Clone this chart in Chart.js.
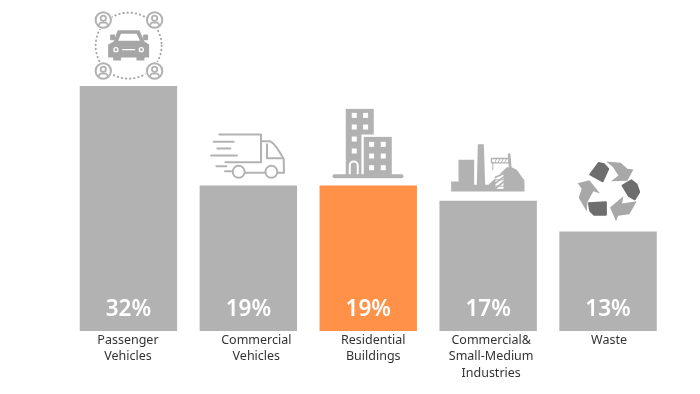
<!DOCTYPE html>
<html><head><meta charset="utf-8">
<style>html,body{margin:0;padding:0;background:#fff}canvas{display:block}</style>
<script src="https://cdn.jsdelivr.net/npm/chart.js@4"></script>
</head><body><canvas id="c" width="700" height="394"></canvas>
<script>
const categories = [["Passenger","Vehicles"],["Commercial","Vehicles"],["Residential","Buildings"],["Commercial&","Small-Medium","Industries"],["Waste"]];
const shareValues = [32,19,19,17,13];
const valueLabels = ["32%","19%","19%","17%","13%"];
const barColors = ["#b2b2b2","#b2b2b2","#ff9248","#b2b2b2","#b2b2b2"];
const labelShift = [-0.5,8,5,3,1];
const G="#b2b2b2", D="#6e6e6e", M="#a8a8a8";

function poly(x,pts,fill){x.beginPath();pts.forEach((p,i)=>i?x.lineTo(p[0],p[1]):x.moveTo(p[0],p[1]));x.closePath();x.fillStyle=fill;x.fill();}
function blob(x,pts,fill){poly(x,pts,fill);x.lineWidth=5;x.lineJoin="round";x.strokeStyle=fill;x.stroke();}
function line(x,pts,w,col){x.beginPath();pts.forEach((p,i)=>i?x.lineTo(p[0],p[1]):x.moveTo(p[0],p[1]));x.lineWidth=w;x.strokeStyle=col||G;x.lineCap="round";x.lineJoin="round";x.stroke();}
function circ(x,cx,cy,r,w,col){x.beginPath();x.arc(cx,cy,r,0,Math.PI*2);x.lineWidth=w;x.strokeStyle=col||G;x.stroke();}
function disc(x,cx,cy,r,col){x.beginPath();x.arc(cx,cy,r,0,Math.PI*2);x.fillStyle=col;x.fill();}

const icons=[
 {ox:175.5,oy:258,draw(x){
   x.setLineDash([1,11.5]);x.lineCap="round";circ(x,176,137,99,6,"#a6a6a6");x.setLineDash([]);
   [[100,60],[254,60],[100,213],[254,213]].forEach(p=>{
     disc(x,p[0],p[1],29,"#fff");circ(x,p[0],p[1],23,6);circ(x,p[0],p[1]-5,8,5.5);
     line(x,[[p[0]-14,p[1]+15],[p[0]-9,p[1]+8],[p[0]+9,p[1]+8],[p[0]+14,p[1]+15]],5.5);
   });
   blob(x,[[133,127],[145,93],[207,93],[222,127],[235,135],[235,170],[117,170],[117,135]],"#a6a6a6");
   poly(x,[[145,122],[153,101],[200,101],[210,122]],"#fff");
   blob(x,[[123,106],[133,106],[133,118],[123,118]],"#a6a6a6");
   blob(x,[[222,106],[232,106],[232,118],[222,118]],"#a6a6a6");
   blob(x,[[132,168],[151,168],[151,179],[132,179]],"#a6a6a6");
   blob(x,[[202,168],[221,168],[221,179],[202,179]],"#a6a6a6");
   circ(x,138,149,6,4,"#fff");circ(x,214,149,6,4,"#fff");line(x,[[158,149],[194,149]],3.5,"#fff");
 }},
 {ox:534,oy:558,draw(x){
   line(x,[[447,405],[572,405],[572,488],[465,488]],6);
   line(x,[[430,427],[490,427]],6);line(x,[[441,447],[480,447]],6);line(x,[[422,468],[500,468]],6);
   line(x,[[438,500],[468,500]],6);line(x,[[464,515],[482,515]],6);
   x.beginPath();x.moveTo(572,425);x.lineTo(598,425);x.quadraticCurveTo(612,428,640,478);x.lineTo(641,520);x.lineTo(622,520);
   x.lineWidth=6;x.strokeStyle=G;x.stroke();
   line(x,[[590,434],[590,476],[638,476]],6);
   line(x,[[524,520],[585,520]],6);
   circ(x,505,517,18,6);circ(x,603,517,18,6);
 }},
 {ox:175.5,oy:288,draw(x){
   x.fillStyle=G;x.fillRect(108,58,84,198);
   x.fillStyle="#fff";x.fillRect(155,135,98,121);
   x.fillStyle=G;x.fillRect(162,142,84,114);
   x.fillStyle="#fff";
   [70,105].forEach(y=>{x.fillRect(126,y,15,15);x.fillRect(160,y,15,15);});
   [141,177].forEach(y=>x.fillRect(126,y,15,15));
   [157,192,227].forEach(y=>{x.fillRect(178,y,15,15);x.fillRect(213,y,15,15);});
   x.beginPath();x.moveTo(120,255);x.lineTo(120,228);x.arc(132,228,12,Math.PI,0);x.lineTo(144,255);
   x.lineWidth=6;x.strokeStyle="#fff";x.lineCap="butt";x.stroke();
   line(x,[[74,260],[275,260]],12,G);
 }},
 {ox:534,oy:333,draw(x){
   poly(x,[[423,275],[445,275],[445,210],[492,210],[492,285],[500,285],[503,163],[521,163],[525,285],[535,285],[590,232],[604,232],[620,240],[643,272],[643,305],[423,305]],G);
   line(x,[[597,194],[600,232]],8,G);
   x.lineCap="butt";x.strokeStyle=G;x.lineWidth=4;x.strokeRect(544,206,52,13);
   [554,564,574,584].forEach(a=>line(x,[[a,218],[a+5,207]],3,G));
   line(x,[[548,219],[548,240]],3,G);
   x.fillStyle="#fff";x.fillRect(556,252,24,45);
   [[556,262,580,252],[556,280,580,262],[556,296,580,276]].forEach(s=>line(x,[[s[0],s[1]],[s[2],s[3]]],5,G));
   line(x,[[556,270],[580,270]],3,G);line(x,[[556,289],[580,289]],3,G);
 }},
 {ox:894,oy:426,draw(x){
   blob(x,[[840,255],[866,220],[882,224],[895,238],[878,276]],D);
   blob(x,[[937,288],[964,272],[980,285],[988,308],[974,330],[956,320]],D);
   blob(x,[[836,341],[888,338],[888,376],[852,376],[840,364]],D);
   poly(x,[[888,216],[932,220],[952,238],[970,240],[952,274],[903,275],[925,258],[908,232]],M);
   poly(x,[[980,335],[958,374],[924,379],[918,395],[900,354],[940,320],[936,342]],M);
   poly(x,[[803,281],[838,272],[870,312],[850,305],[832,338],[830,366],[806,325],[815,298]],M);
 }}
];

const decor={id:"decor",afterDatasetsDraw(ch){
  const x=ch.ctx,meta=ch.getDatasetMeta(0);
  meta.data.forEach((b,i)=>{
    x.save();x.translate(b.x,b.y);x.scale(1/3,1/3);x.translate(-icons[i].ox,-icons[i].oy);icons[i].draw(x);x.restore();
    x.save();x.textAlign="center";x.textBaseline="middle";
    x.fillStyle="#ffffff";x.font='600 22.5px "Noto Sans"';
    x.fillText(valueLabels[i],b.x,ch.chartArea.bottom-21.5);
    x.fillStyle="#333333";x.font='12.5px "Noto Sans"';
    categories[i].forEach((t,k)=>x.fillText(t,b.x+labelShift[i],ch.chartArea.bottom+9+k*16.7));
    x.restore();
  });
}};

new Chart(document.getElementById("c"),{
  type:"bar",
  data:{labels:categories.map(c=>c.join(" ")),datasets:[{data:shareValues,backgroundColor:barColors,borderWidth:0,barPercentage:0.8125,categoryPercentage:1}]},
  options:{responsive:false,animation:false,
    layout:{padding:{left:68.5,right:32,top:86,bottom:63}},
    plugins:{legend:{display:false},tooltip:{enabled:false},title:{display:false}},
    scales:{x:{display:false,grid:{display:false}},y:{display:false,min:0,max:32,grid:{display:false}}}},
  plugins:[decor]
});
</script></body></html>
